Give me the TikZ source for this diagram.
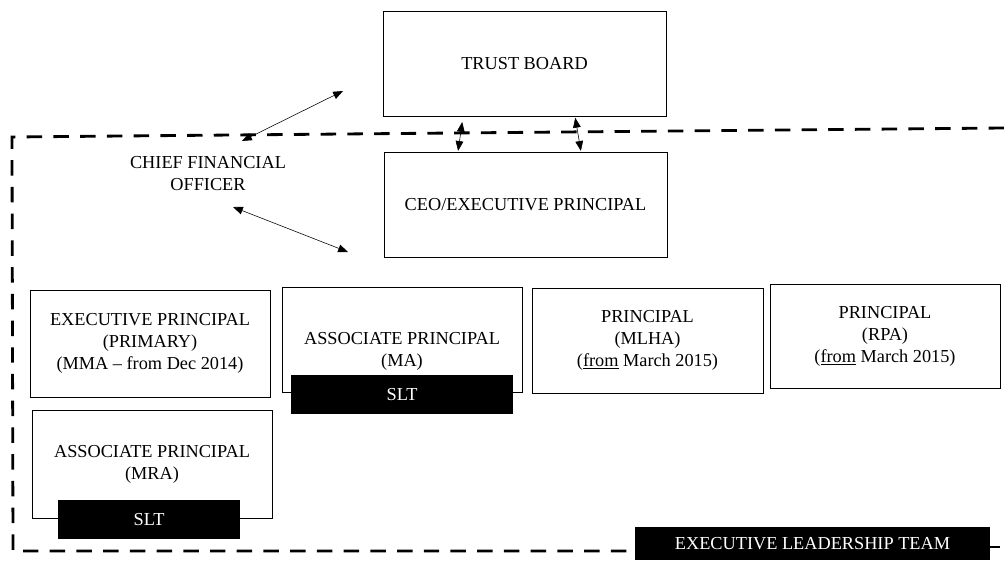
\documentclass[tikz,border=0pt]{standalone}
\usepackage{fontspec}
\setmainfont{Liberation Serif}
\usetikzlibrary{arrows.meta}

\begin{document}
\begin{tikzpicture}[x=0.025cm, y=-0.025cm, <->, >={Triangle[length=7pt, width=5.5pt]},
    every node/.style={font=\fontsize{13}{15.6}\selectfont, align=center},
    post/.style={draw, line width=0.6pt, minimum width=6cm, minimum height=2.65cm, inner sep=0pt},
    slt/.style={fill=black, text=white, minimum height=0.975cm, inner sep=0pt},
    frame/.style={-, line width=2pt, dash pattern=on 11pt off 8pt}]
    \useasboundingbox (0,0) rectangle (1004,560);

    \node[post, minimum width=7.075cm, minimum height=2.625cm] (board) at (524.5,63.5) {TRUST BOARD};
    \node[post, minimum width=7.075cm, minimum height=2.625cm] (ceo) at (525.5,204.5) {CEO/EXECUTIVE PRINCIPAL};
    \node (cfo) at (208,174) {CHIEF FINANCIAL\\OFFICER};

    \node[post, minimum height=2.675cm] (mma) at (150,343.5) {EXECUTIVE PRINCIPAL\\(PRIMARY)\\(MMA -- from Dec 2014)};
    \node[post, minimum height=2.625cm] (ma) at (402,339.5) {};
    \node (matxt) at (402,351) {ASSOCIATE PRINCIPAL\\(MA)};
    \node[slt, minimum width=5.55cm] (maslt) at (402,394.5) {SLT};
    \node[post, minimum width=5.775cm, minimum height=2.625cm] (mlha) at (647.5,340.5) {PRINCIPAL\\(MLHA)\\(\underline{from} March 2015)};
    \node[post, minimum width=5.75cm, minimum height=2.6cm] (rpa) at (885,336) {PRINCIPAL\\(RPA)\\(\underline{from} March 2015)};
    \node[post, minimum height=2.7cm] (mra) at (152,464) {ASSOCIATE PRINCIPAL\\(MRA)};
    \node[slt, minimum width=4.55cm] (mraslt) at (149,519.5) {SLT};
    \node[slt, minimum width=8.875cm, minimum height=0.825cm] (elt) at (812.5,543.5) {EXECUTIVE LEADERSHIP TEAM};

    \coordinate (ftl) at (12,137);
    \coordinate (ftr) at (1004,128);
    \coordinate (fbl) at (13,551);
    \draw[frame] (ftr) -- (ftl) -- (fbl) -- (fbl -| elt.west);
    \draw[-, thick] (elt.east |- 0,547) -- ++(10,0);

    \coordinate (cfoa) at (242,141);
    \coordinate (cfob) at (343,91);
    \coordinate (cfoc) at (233,207);
    \coordinate (cfod) at (348,252);
    \draw (cfoa) -- (cfob);
    \draw (cfoc) -- (cfod);
    \draw[shorten <=4pt, shorten >=0.5pt] (463,0 |- board.south) -- (458,0 |- ceo.north);
    \draw[shorten <=1pt, shorten >=0.5pt] (575,0 |- board.south) -- (581,0 |- ceo.north);
\end{tikzpicture}
\end{document}
